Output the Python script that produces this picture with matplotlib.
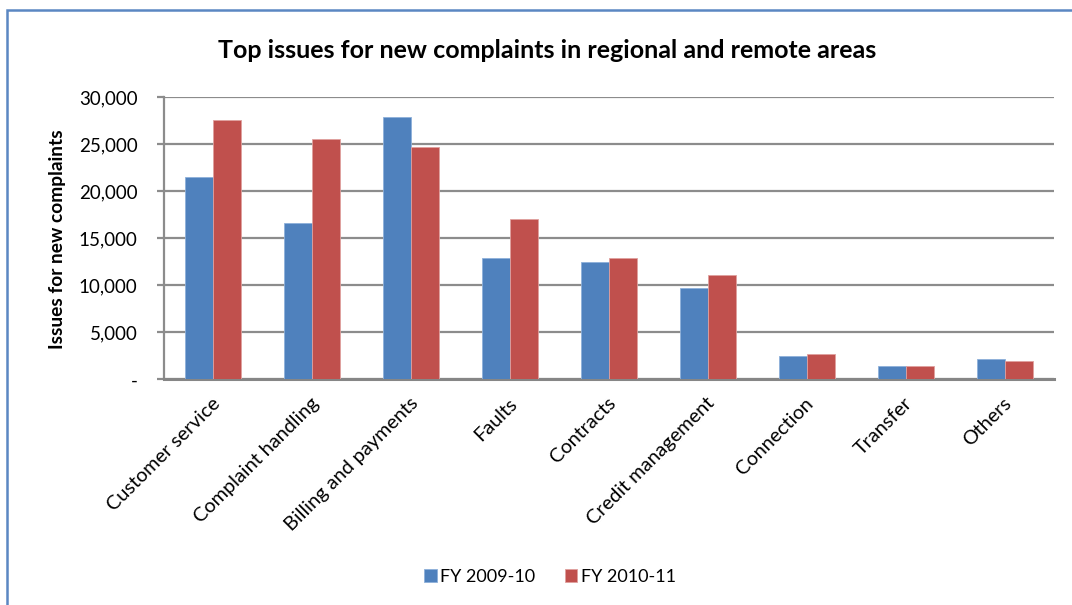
import matplotlib
matplotlib.use("Agg")
import matplotlib.pyplot as plt
import matplotlib.transforms as mtransforms
import numpy as np
from matplotlib.patches import Rectangle
from matplotlib.ticker import FuncFormatter

categories = ["Customer service", "Complaint handling", "Billing and payments",
              "Faults", "Contracts", "Credit management", "Connection",
              "Transfer", "Others"]
fy_2009_10 = [21500, 16600, 27900, 12900, 12500, 9750, 2450, 1400, 2150]
fy_2010_11 = [27550, 25600, 24700, 17100, 12900, 11050, 2700, 1400, 1900]
series_names = ["FY 2009-10", "FY 2010-11"]
y_ticks = [0, 5000, 10000, 15000, 20000, 25000, 30000]

plt.rcParams['font.family'] = ['Lato', 'DejaVu Sans']

fig = plt.figure(figsize=(10.72, 6.05), dpi=100)
ax = fig.add_axes([164/1072, 1-379.3/605, (1054-164)/1072, (379.3-97.3)/605])

blue = "#4F81BD"
red = "#C0504D"
x = np.arange(len(categories))
w = 0.283
ax.bar(x - w/2, fy_2009_10, w, color=blue, label=series_names[0],
       edgecolor="#8EB0DA", linewidth=0.6, zorder=3)
ax.bar(x + w/2, fy_2010_11, w, color=red, label=series_names[1],
       edgecolor="#E0A09E", linewidth=0.6, zorder=3)

ax.set_xlim(-0.5, len(categories) - 0.5)
ax.set_ylim(0, 30000)
ax.set_yticks(y_ticks)
ax.yaxis.set_major_formatter(FuncFormatter(lambda v, p: "-" if v == 0 else f"{int(v):,}"))
ax.yaxis.grid(True, color="#8C8C8C", linewidth=1.6, zorder=0)
ax.set_axisbelow(True)
for s in ["top", "right"]:
    ax.spines[s].set_visible(False)
ax.spines["left"].set_color("#8C8C8C")
ax.spines["left"].set_linewidth(1.6)
ax.spines["bottom"].set_color("#868686")
ax.spines["bottom"].set_linewidth(2.2)
ax.tick_params(axis="y", length=5, width=1.6, color="#8C8C8C", pad=14,
               labelsize=13.5, labelcolor="black")
ax.tick_params(axis="x", length=0, pad=11, labelsize=14.3)
ax.set_xticks(x)
ax.set_xticklabels(categories, rotation=45, ha="right", va="top",
                   rotation_mode="anchor")
offset = mtransforms.ScaledTranslation(-2/100, 0, fig.dpi_scale_trans)
for lbl in ax.get_xticklabels():
    lbl.set_transform(lbl.get_transform() + offset)

ax.set_ylabel("Issues for new complaints", fontsize=13.8, fontweight="bold",
              va="center")
ax.yaxis.set_label_coords(57/1072, 1-239/605, transform=fig.transFigure)

fig.text(547/1072, 1-50/605, "Top issues for new complaints in regional and remote areas",
         ha="center", va="center", fontsize=18, fontweight="bold")

leg = fig.legend(loc="center", bbox_to_anchor=(550/1072, 1-577/605), ncol=2,
                 frameon=False, fontsize=13, handlelength=0.7, handleheight=0.7,
                 handletextpad=0.2, columnspacing=1.6)

border = Rectangle((7/1072, -0.1), 1.2, 1.1 - 10.5/605, transform=fig.transFigure,
                   fill=False, edgecolor="#5B87C2", linewidth=1.8, zorder=10)
fig.patches.append(border)

fig.savefig("out.png", dpi=100)
